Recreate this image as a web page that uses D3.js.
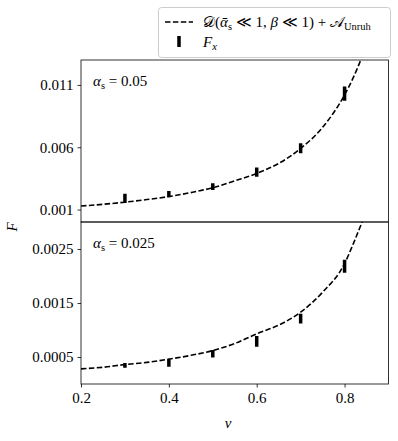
<!DOCTYPE html>
<html>
<head>
<meta charset="utf-8">
<script src="https://cdn.jsdelivr.net/npm/d3@7"></script>
<style>
  body { margin: 0; background: #fff; }
  text { font-family: "Liberation Serif", "DejaVu Serif", serif; fill: #000; }
</style>
</head>
<body>
<svg width="398" height="441"></svg>
<script>
// curve samples
var curveV = [0.2, 0.25, 0.3, 0.35, 0.4, 0.45, 0.5, 0.55, 0.6, 0.65, 0.7, 0.75, 0.8, 0.82, 0.84, 0.85];
var curveTop = [0.00128, 0.00142, 0.00159, 0.0018, 0.00204, 0.00236, 0.00275, 0.0033, 0.0039, 0.0047, 0.0059, 0.0076, 0.0102, 0.0116, 0.0133, 0.0143];
var curveBottom = [0.00028, 0.00031, 0.00036, 0.0004, 0.00046, 0.00053, 0.00062, 0.00075, 0.00093, 0.00109, 0.00133, 0.0017, 0.00223, 0.0026, 0.003, 0.0032];

// F_x points with error half-heights
var pointV = [0.3, 0.4, 0.5, 0.6, 0.7, 0.8];
var topF = [0.0019, 0.00224, 0.00284, 0.00401, 0.00591, 0.0103];
var topErr = [0.00037, 0.00025, 0.00027, 0.00037, 0.0004, 0.00057];
var bottomF = [0.000345, 0.00039, 0.00056, 0.00079, 0.00121, 0.00218];
var bottomErr = [0.000045, 0.00007, 0.00007, 0.0001, 0.00009, 0.00012];

var xTicks = [0.2, 0.4, 0.6, 0.8];
var topTicks = [0.001, 0.006, 0.011];
var bottomTicks = [0.0005, 0.0015, 0.0025];

var svg = d3.select("svg");
var left = 81, right = 388.5;

var x = d3.scaleLinear().domain([0.2, 0.9]).range([left, right]);

var panels = [
  { y0: 60, y1: 222, domain: [0, 0.013], curve: curveTop, F: topF, err: topErr, ticks: topTicks, fmt: d3.format(".3f"), label: "0.05", id: "clipTop" },
  { y0: 222, y1: 384, domain: [0, 0.003], curve: curveBottom, F: bottomF, err: bottomErr, ticks: bottomTicks, fmt: d3.format(".4f"), label: "0.025", id: "clipBot" }
];

var defs = svg.append("defs");

panels.forEach(function(p, pi) {
  var y = d3.scaleLinear().domain(p.domain).range([p.y1, p.y0]);
  var g = svg.append("g");

  defs.append("clipPath").attr("id", p.id)
    .append("rect")
    .attr("x", left).attr("y", p.y0)
    .attr("width", right - left).attr("height", p.y1 - p.y0);

  var plot = g.append("g").attr("clip-path", "url(#" + p.id + ")");

  var line = d3.line()
    .x(function(d, i) { return x(curveV[i]); })
    .y(function(d) { return y(d); })
    .curve(d3.curveMonotoneX);

  plot.append("path")
    .datum(p.curve)
    .attr("d", line)
    .attr("fill", "none")
    .attr("stroke", "#000")
    .attr("stroke-width", 1.6)
    .attr("stroke-dasharray", "5.5,2.4");

  plot.selectAll("line.bar")
    .data(p.F)
    .enter().append("line")
    .attr("class", "bar")
    .attr("x1", function(d, i) { return x(pointV[i]); })
    .attr("x2", function(d, i) { return x(pointV[i]); })
    .attr("y1", function(d, i) { return y(d - p.err[i]); })
    .attr("y2", function(d, i) { return y(d + p.err[i]); })
    .attr("stroke", "#000")
    .attr("stroke-width", 3.5);

  // y axis
  var yAxis = d3.axisLeft(y).tickValues(p.ticks).tickFormat(p.fmt).tickSize(3.5).tickPadding(4);
  var ya = g.append("g").attr("transform", "translate(" + left + ",0)").call(yAxis);
  ya.select(".domain").remove();
  ya.selectAll("text").style("font-size", "15px");
  ya.selectAll("line").attr("stroke-width", 0.8);

  if (pi == 1) {
    var xAxis = d3.axisBottom(x).tickValues(xTicks).tickFormat(d3.format(".1f")).tickSize(3.5).tickPadding(5);
    var xa = g.append("g").attr("transform", "translate(0," + p.y1 + ")").call(xAxis);
    xa.select(".domain").remove();
    xa.selectAll("text").style("font-size", "15px");
    xa.selectAll("line").attr("stroke-width", 0.8);
  }

  g.append("rect")
    .attr("x", left).attr("y", p.y0)
    .attr("width", right - left).attr("height", p.y1 - p.y0)
    .attr("fill", "none")
    .attr("stroke", "#000")
    .attr("stroke-width", 0.8);

  var t = g.append("text")
    .attr("x", 93)
    .attr("y", p.y0 + 26)
    .style("font-size", "15px");
  t.append("tspan").style("font-style", "italic").text("α");
  t.append("tspan").attr("dy", 3).style("font-size", "10.5px").text("s");
  t.append("tspan").attr("dy", -3).text(" = " + p.label);
});

// axis labels
svg.append("text")
  .attr("transform", "translate(17,227) rotate(-90)")
  .attr("text-anchor", "middle")
  .style("font-size", "15px")
  .style("font-style", "italic")
  .text("F");

svg.append("text")
  .attr("x", 228)
  .attr("y", 428)
  .attr("text-anchor", "middle")
  .style("font-size", "15px")
  .style("font-style", "italic")
  .text("v");

// legend
var lg = svg.append("g");
lg.append("rect")
  .attr("x", 158.5).attr("y", 7.5)
  .attr("width", 232).attr("height", 50)
  .attr("rx", 3)
  .attr("fill", "#fff")
  .attr("stroke", "#ccc")
  .attr("stroke-width", 1);

lg.append("line")
  .attr("x1", 165).attr("x2", 193)
  .attr("y1", 22).attr("y2", 22)
  .attr("stroke", "#000")
  .attr("stroke-width", 1.6)
  .attr("stroke-dasharray", "5.5,2.4");

lg.append("line")
  .attr("x1", 179).attr("x2", 179)
  .attr("y1", 36).attr("y2", 47)
  .attr("stroke", "#000")
  .attr("stroke-width", 3.5);

var l1 = lg.append("text").attr("x", 203).attr("y", 27).style("font-size", "15px");
l1.append("tspan").style("font-family", "DejaVu Sans").text("𝒟");
l1.append("tspan").text("(");
l1.append("tspan").style("font-style", "italic").text("ᾱ");
l1.append("tspan").attr("dy", 3).style("font-size", "10.5px").text("s");
l1.append("tspan").attr("dy", -3).text(" ≪ 1, ");
l1.append("tspan").style("font-style", "italic").text("β");
l1.append("tspan").text(" ≪ 1) + ");
l1.append("tspan").style("font-family", "DejaVu Sans").text("𝒜");
l1.append("tspan").attr("dy", 3).style("font-size", "10.5px").text("Unruh");

var l2 = lg.append("text").attr("x", 203).attr("y", 47).style("font-size", "15px");
l2.append("tspan").style("font-style", "italic").text("F");
l2.append("tspan").attr("dy", 3).style("font-size", "10.5px").style("font-style", "italic").text("x");
</script>
</body>
</html>
